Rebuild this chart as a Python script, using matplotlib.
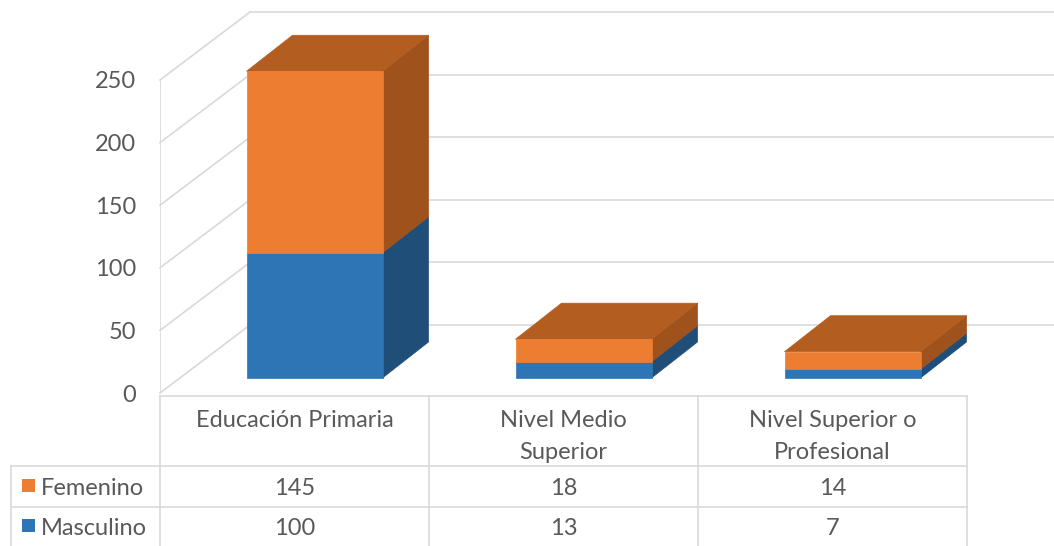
import matplotlib
matplotlib.use("Agg")
import matplotlib.pyplot as plt
from matplotlib.patches import Polygon, Rectangle

# data
categories = ["Educación Primaria", "Nivel Medio\nSuperior", "Nivel Superior o\nProfesional"]
series_names = ["Femenino", "Masculino"]
femenino = [145, 18, 14]
masculino = [100, 13, 7]
yticks = [0, 50, 100, 150, 200, 250]

# look
W, H = 1054, 546
orange, orange_top, orange_side = "#ED7D31", "#B45D21", "#A0521C"
blue, blue_top, blue_side = "#2E75B6", "#255E92", "#1F4E79"
grid_c = "#D9D9D9"
text_c = "#595959"
font = "Lato"
fs = 17

# pixel layout of the plot box
x_front0 = 160          # left edge of the front plane (px)
col_w = 269             # width of one category (px)
y_zero = 393            # baseline (px from top)
px_per_unit = 1.252     # vertical px per value unit

# oblique depth, in data units
wall_dx, wall_dy = 90 / col_w, 68 / px_per_unit
bar_fx, bar_fy = 20 / col_w, 15 / px_per_unit
bar_bx, bar_by = 66 / col_w, 51 / px_per_unit
bar_w = 136 / col_w

fig = plt.figure(figsize=(W / 100, H / 100), dpi=100)
fig.patch.set_facecolor("white")

ax = fig.add_axes([x_front0 / W, 1 - y_zero / H, 1 - x_front0 / W, y_zero / H])
x_lo = -0.5
x_hi = -0.5 + (W - x_front0) / col_w
ax.set_xlim(x_lo, x_hi)
ax.set_ylim(0, y_zero / px_per_unit)
for s in ax.spines.values():
    s.set_visible(False)
ax.set_xticks([])
ax.set_yticks(yticks)
ax.set_yticklabels([str(v) for v in yticks], fontsize=fs, color=text_c, family=font)
ax.tick_params(axis="y", length=0, pad=17)

# walls: back gridlines and left wall diagonals
for v in yticks:
    ax.plot([x_lo + wall_dx, x_hi], [v + wall_dy, v + wall_dy], color=grid_c, lw=1.2, zorder=1, clip_on=False)
    ax.plot([x_lo, x_lo + wall_dx], [v, v + wall_dy], color=grid_c, lw=1.2, zorder=1, clip_on=False)
ax.plot([x_lo, x_lo], [0, yticks[-1]], color=grid_c, lw=1.2, zorder=1)


def box(xc, bottom, top, front, side, topc, draw_top):
    x0, x1 = xc - bar_w / 2, xc + bar_w / 2
    ax.add_patch(Polygon([(x1 + bar_fx, bottom + bar_fy), (x1 + bar_bx, bottom + bar_by),
                          (x1 + bar_bx, top + bar_by), (x1 + bar_fx, top + bar_fy)],
                         closed=True, fc=side, ec=side, lw=0.5, zorder=3))
    if draw_top:
        ax.add_patch(Polygon([(x0 + bar_fx, top + bar_fy), (x0 + bar_bx, top + bar_by),
                              (x1 + bar_bx, top + bar_by), (x1 + bar_fx, top + bar_fy)],
                             closed=True, fc=topc, ec=topc, lw=0.5, zorder=3))
    ax.add_patch(Rectangle((x0 + bar_fx, bottom + bar_fy), bar_w, top - bottom,
                           fc=front, ec=front, lw=0.5, zorder=4))


for i, (f, m) in enumerate(zip(femenino, masculino)):
    box(i, 0, m, blue, blue_side, blue_top, False)
    box(i, m, m + f, orange, orange_side, orange_top, True)

# data table underneath
tab = fig.add_axes([0, 0, 1, 1 - y_zero / H])
tab.set_xlim(x_lo - x_front0 / col_w, x_hi)
tab.set_ylim(H - y_zero, 0)
tab.axis("off")
x_right = len(categories) - 0.5
row_y = [3, 73, 114, 160]
x_left_rows = x_lo - (x_front0 - 11) / col_w

tab.plot([x_lo, x_right], [row_y[0]] * 2, color=grid_c, lw=1.2)
for y in row_y[1:3]:
    tab.plot([x_left_rows, x_right], [y, y], color=grid_c, lw=1.2)
for k in range(len(categories) + 1):
    tab.plot([x_lo + k, x_lo + k], [row_y[0], row_y[3]], color=grid_c, lw=1.2)
tab.plot([x_left_rows, x_left_rows], [row_y[1], row_y[3]], color=grid_c, lw=1.2)

# header cells, one baseline per text line
for i, c in enumerate(categories):
    for j, line in enumerate(c.split("\n")):
        tab.text(i, 34 + 32 * j, line, ha="center", va="baseline", fontsize=fs,
                 color=text_c, family=font)

rows = [(series_names[0], femenino, orange), (series_names[1], masculino, blue)]
for r, (name, vals, col) in enumerate(rows):
    base = 102 + 40 * r
    sq_x = x_lo - (x_front0 - 22) / col_w
    tab.add_patch(Rectangle((sq_x, base - 16), 13 / col_w, 13, fc=col, ec="none"))
    tab.text(x_lo - (x_front0 - 41) / col_w, base, name, ha="left", va="baseline",
             fontsize=fs, color=text_c, family=font)
    for i, v in enumerate(vals):
        tab.text(i, base, str(v), ha="center", va="baseline", fontsize=fs,
                 color=text_c, family=font)

fig.savefig("out.png", dpi=100, facecolor="white")
